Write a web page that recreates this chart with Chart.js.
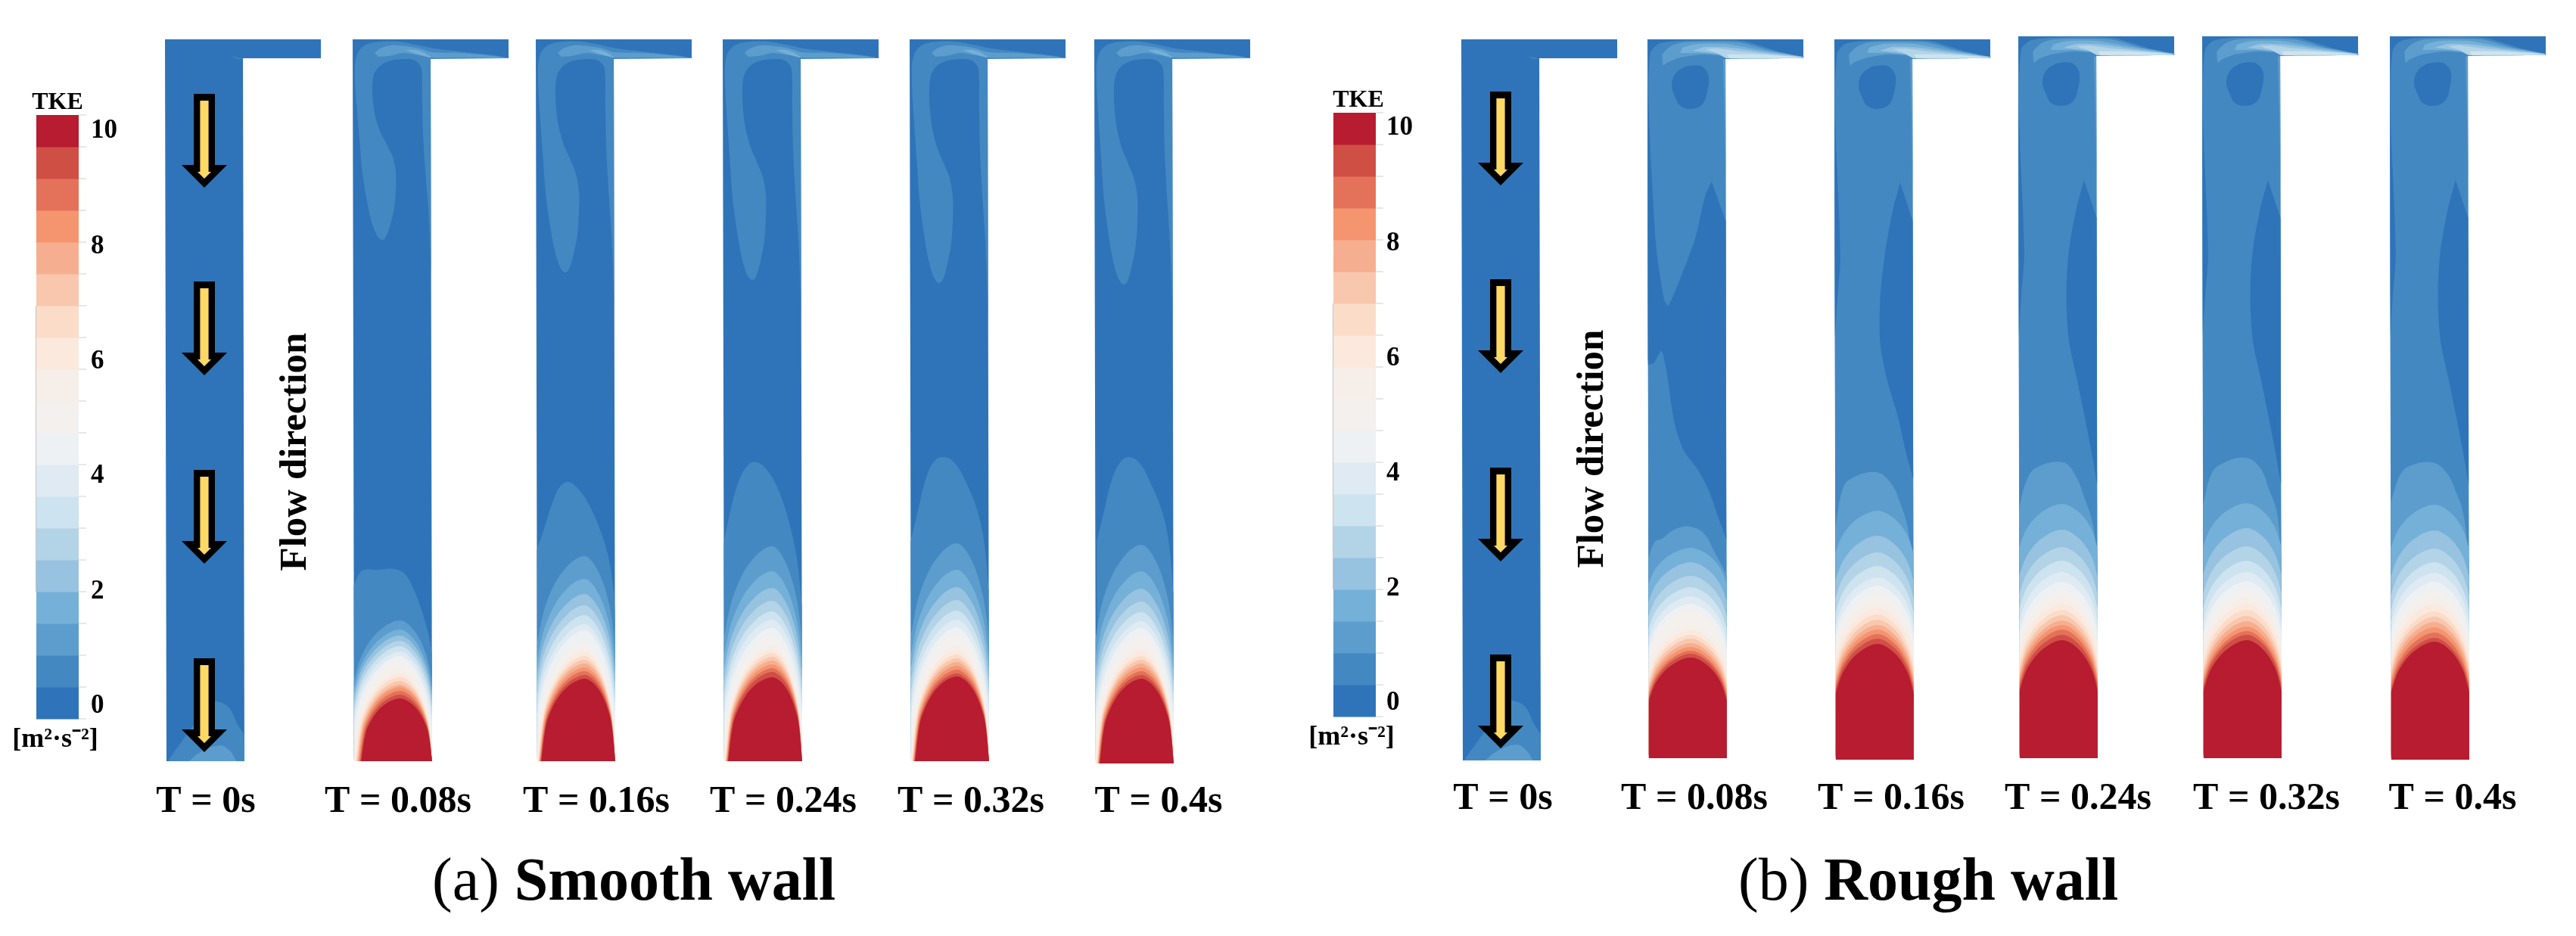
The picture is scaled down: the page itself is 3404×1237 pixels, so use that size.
<!DOCTYPE html>
<html>
<head>
<meta charset="utf-8">
<title>TKE contours</title>
<script src="https://cdn.jsdelivr.net/npm/chart.js@4"></script>
<style>
  html, body { margin: 0; background: #fff; }
  canvas { display: block; }
</style>
</head>
<body>
<canvas id="tkeChart" width="3404" height="1237"></canvas>
<script>
// --- data ---
const timeLabels = ['T = 0s', 'T = 0.08s', 'T = 0.16s', 'T = 0.24s', 'T = 0.32s', 'T = 0.4s'];
const tkeTicks = [0, 2, 4, 6, 8, 10];
// colour bar, bottom to top
const tkeColors = ['#2f74b8', '#4488c2', '#5c9dcd', '#74b0d7', '#97c2e0', '#b3d3e7', '#cde3ef', '#dfeaf2',
    '#edf1f4', '#f3f0ee', '#f5eee9', '#fbe9dd', '#fbdcc9', '#f8c7ae', '#f6ae90', '#f4956f', '#e4725a', '#d04f45', '#b71c30'];

// contours are [across the pipe in %, height above the outlet]
const smoothOuter = [
    [[0, 231], [6, 246], [13, 253], [30, 253], [52, 254], [65, 248], [76, 229], [87, 199], [96, 166], [100, 143]],
    [[0, 279], [9, 306], [20, 341], [30, 363], [41, 369], [54, 359], [67, 339], [80, 309], [91, 273], [98, 229], [100, 199]],
    [[0, 289], [7, 323], [18, 366], [31, 391], [43, 395], [57, 383], [70, 359], [83, 319], [94, 266], [100, 206]],
    [[0, 291], [9, 329], [20, 374], [31, 397], [43, 402], [56, 395], [70, 371], [85, 333], [94, 291], [100, 226]],
    [[2, 294], [11, 332], [22, 377], [33, 399], [43, 405], [56, 398], [70, 373], [85, 335], [94, 294], [100, 225]]
];
// apex height of each closed band, from the outermost in to the red core
const smoothApex = [
    [186, 174, 166, 159, 152, 145, 139, 134, 121, 116, 111, 106, 101, 98, 93, 88, 83],
    [271, 241, 221, 206, 193, 181, 173, 158, 149, 144, 139, 134, 129, 124, 119, 114, 109],
    [284, 251, 229, 212, 198, 187, 176, 166, 153, 148, 143, 138, 133, 128, 123, 118, 111],
    [288, 253, 230, 213, 199, 187, 177, 169, 153, 147, 141, 136, 131, 126, 121, 116, 112],
    [289, 254, 231, 214, 200, 188, 179, 170, 154, 148, 142, 137, 132, 127, 122, 117, 112]
];
const smoothCentre = [59, 61, 62, 59, 59];
const smoothCoreInset = [9, 5, 5, 5, 5];
const smoothFeet = [.57, .55, .53, .5, .46, .42, .36, .28, .18, 0, 0, 0, 0, 0, 0, 0, 0];

const roughOuter = [
    [[0, 265], [8, 286], [17, 290], [35, 303], [53, 306], [71, 297], [85, 272], [100, 243]],
    [[0, 305], [8, 353], [18, 370], [52, 380], [71, 366], [84, 337], [93, 305], [100, 246]],
    [[0, 331], [9, 366], [22, 384], [56, 391], [72, 374], [84, 343], [94, 311], [100, 264]],
    [[0, 335], [10, 374], [22, 388], [54, 397], [73, 384], [85, 354], [95, 323], [100, 264]],
    [[0, 341], [12, 376], [24, 388], [53, 393], [71, 380], [84, 353], [93, 325], [100, 266]]
];
const roughApex = [
    [278, 259, 241, 226, 214, 204, 197, 176, 169, 163, 158, 152, 147, 142, 138, 133],
    [329, 296, 274, 256, 241, 230, 220, 210, 200, 192, 185, 178, 172, 166, 160, 153],
    [336, 302, 279, 261, 246, 233, 222, 212, 204, 196, 189, 182, 176, 170, 163, 156],
    [337, 304, 280, 261, 246, 234, 223, 213, 204, 196, 188, 181, 174, 168, 163, 156],
    [337, 303, 279, 261, 247, 235, 223, 214, 205, 196, 189, 182, 175, 168, 161, 156]
];
const roughCentre = [54, 54, 55, 56, 56];
const roughFeet = [.83, .8, .78, .76, .74, .72, .7, .68, .66, .64, .62, .61, .6, .59, .58, .57];

// how a band falls away from its apex towards the wall: [share of the half width, share of the height]
const domeProfile = [[0, 1], [.2, .96], [.4, .86], [.6, .71], [.8, .47], [.9, .28], [1, 0]];
// the warm bands near the core are rounder
const coreProfile = [[0, 1], [.2, .97], [.4, .9], [.6, .78], [.8, .58], [.9, .4], [1, 0]];

// upper part of the flow: [across the pipe in %, depth below the top edge]
const t0Outer = [[3, 2], [16, 21], [40, 55], [55, 77], [68, 78], [81, 70], [91, 49], [100, 35]];
const t0Inner = [[29, 0], [42, 11], [68, 21], [81, 14], [90, 0]];
const t0Sliver = [[85, 22], [100, 26], [93, 26]];
const smoothLobe = [[200, 25], [181, 21], [136, 16], [104, 12], [81, 7], [59, 3], [36, 3], [17, 7], [7, 17], [3, 33], [3, 58],
    [5, 88], [9, 138], [12, 175], [17, 208], [23, 238], [30, 258], [36, 265], [41, 263], [47, 248], [53, 222], [55, 195], [55, 175],
    [51, 155], [43, 138], [35, 122], [28, 98], [25, 68], [27, 47], [35, 35], [49, 28], [68, 26], [80, 28], [88, 38], [89, 78],
    [90, 125], [93, 175], [97, 228], [100, 312], [100, 312], [100, 26], [100, 26]];
const smoothTipDepth = [265, 308, 318, 322, 324];
const smoothJet = [[28, 18], [35, 12], [49, 8], [68, 9], [85, 12], [101, 17], [136, 18], [181, 22], [200, 25], [136, 24], [101, 24], [85, 21], [65, 18], [46, 22], [33, 23]];
const smoothJetCore = [[68, 14], [81, 14], [92, 18], [100, 24], [88, 21], [78, 18]];

const roughRing = [[201, 24], [165, 15], [121, 2], [39, 2], [14, 6], [4, 17], [1, 55], [0, 93], [0, 93], [0, 950], [0, 950], [100, 950], [100, 950], [100, 26], [100, 26]];
const roughEye = [[61, 34], [70, 36], [78, 47], [77, 67], [70, 86], [55, 92], [42, 88], [36, 78], [31, 61], [36, 45], [48, 36]];
const roughWedge08 = [[82, 188], [74, 205], [61, 262], [43, 312], [26, 352], [21, 345], [11, 278], [5, 178], [1, 78], [0, 28], [0, 28], [0, 430], [0, 430],
    [7, 428], [17, 412], [23, 435], [29, 478], [34, 509], [45, 543], [63, 568], [77, 595], [90, 633], [100, 661], [100, 661], [100, 240]];
const roughWedge16 = [[84, 189], [74, 228], [64, 286], [58, 343], [58, 401], [67, 451], [80, 497], [91, 547], [100, 581], [100, 581], [100, 240]];
const roughWedgeLate = [[84, 190], [74, 228], [64, 286], [61, 343], [64, 401], [74, 451], [83, 497], [92, 545], [100, 592], [100, 592], [100, 240]];
const roughStrip = [[0, 30], [1, 115], [7, 286], [3, 345], [0, 395]];
const roughWallStrip = [[97, 27], [100, 26], [100, 200], [99, 110]];
const roughJets = [
    [[20, 35], [19, 20], [30, 9], [45, 4], [77, 3], [118, 4], [158, 15], [201, 24], [102, 25], [99, 22], [70, 20], [42, 24], [26, 30]],
    [[42, 18], [45, 11], [64, 6], [102, 6], [140, 13], [201, 24], [102, 25], [96, 21], [70, 18], [52, 18]],
    [[58, 15], [74, 10], [108, 11], [150, 17], [201, 24], [102, 25], [95, 20], [75, 17]],
    [[74, 13], [89, 12], [121, 16], [201, 24], [102, 25], [89, 18]],
    [[102, 20], [140, 20], [201, 24], [105, 25]]
];

// --- layout of the figure, in picture pixels ---
const smoothPanels = [
    { left: 218, top: 52, bottom: 1006 }, { left: 466, top: 52, bottom: 1006 }, { left: 708, top: 52, bottom: 1006 },
    { left: 955, top: 52, bottom: 1006 }, { left: 1202, top: 52, bottom: 1006 }, { left: 1446, top: 52, bottom: 1009 }
];
const roughPanels = [
    { left: 1931, top: 52, bottom: 1005 }, { left: 2177, top: 52, bottom: 1002 }, { left: 2424, top: 52, bottom: 1004 },
    { left: 2667, top: 48, bottom: 1002 }, { left: 2910, top: 48, bottom: 1002 }, { left: 3158, top: 48, bottom: 1004 }
];
const pipeWidth = 103;
const branchDepth = 25;
const smoothLabelX = [272, 526, 788, 1035, 1283, 1531];
const roughLabelX = [1986, 2239, 2499, 2746, 2995, 3241];
const arrowShape = [[-14, 0], [14, 0], [14, 94], [30, 94], [0, 124], [-30, 94], [-14, 94]];
const arrowCore = [[-5.6, 9], [5.6, 9], [5.6, 103], [9, 103], [0, 112], [-9, 103], [-5.6, 103]];
const smoothArrowTops = [124, 372, 621, 870];
const roughArrowTops = [121, 369, 618, 865];

const datasets = [];

function addShape(points, color, tension) {
    datasets.push({
        data: points.map(p => ({ x: p[0], y: p[1] })),
        showLine: true,
        fill: 'shape',
        backgroundColor: color,
        borderWidth: 0,
        pointRadius: 0,
        tension: tension || 0,
        order: -datasets.length
    });
}

// pipe walls lean by a couple of pixels from top to bottom
function toFigure(panel, u, depth) {
    return [panel.left + u / 100 * pipeWidth + 2 * depth / 950, panel.top + depth];
}
function fromTop(panel, list) {
    return list.map(p => toFigure(panel, p[0], p[1]));
}
function fromBottom(panel, list) {
    return list.map(p => toFigure(panel, p[0], panel.bottom - panel.top - p[1]));
}

function addPanelBase(panel) {
    addShape(fromTop(panel, [[0, 0], [200, 0], [200, branchDepth], [100, branchDepth], [100, panel.bottom - panel.top], [0, panel.bottom - panel.top]]), tkeColors[0]);
}

// outer contour, closed down along the walls to the outlet
function addOutline(panel, list, color) {
    const first = list[0];
    const last = list[list.length - 1];
    const pts = [[first[0], 0], first, first].concat(list.slice(1, -1), [last, last, [last[0], 0]]);
    addShape(fromBottom(panel, pts), color, 0.4);
}

function addDome(panel, centre, apex, foot, color, inset, profile) {
    const wallL = inset || 0;
    const wallR = 100;
    const h = s => apex * (foot + (1 - foot) * s);
    const left = profile.map(p => [centre - p[0] * (centre - wallL), h(p[1])]).reverse();
    const right = profile.slice(1).map(p => [centre + p[0] * (wallR - centre), h(p[1])]);
    const curve = left.concat(right);
    const pts = [[wallL, 0], curve[0], curve[0]].concat(curve.slice(1, -1), [curve[curve.length - 1], curve[curve.length - 1], [wallR, 0]]);
    addShape(fromBottom(panel, pts), color, 0.4);
}

function addT0(panel) {
    addPanelBase(panel);
    addShape(fromTop(panel, t0Sliver), tkeColors[1]);
    addOutline(panel, t0Outer, tkeColors[1]);
    addOutline(panel, t0Inner, tkeColors[2]);
}

function addArrows(x, tops) {
    tops.forEach(top => {
        addShape(arrowShape.map(p => [x + p[0], top + p[1]]), '#000000');
        addShape(arrowCore.map(p => [x + p[0], top + p[1]]), '#ffd966');
    });
}

function addColourBar(left, top) {
    const barWidth = 56;
    const band = 42;
    tkeColors.forEach((color, i) => {
        const y0 = top + (18 - i) * band;
        addShape([[left, y0], [left + barWidth, y0], [left + barWidth, y0 + band + 0.5], [left, y0 + band + 0.5]], color);
    });
    for (let i = 0; i <= 19; i++) {
        const y = top + i * band;
        addShape([[left + barWidth, y - 0.5], [left + barWidth + 10, y - 0.5], [left + barWidth + 10, y + 0.5], [left + barWidth, y + 0.5]], '#d0d0d0');
    }
    addShape([[left - 1, top + 6 * band], [left, top + 6 * band], [left, top + 15 * band], [left - 1, top + 15 * band]], '#c4c4c4');
}

// smooth wall
addT0(smoothPanels[0]);
smoothPanels.slice(1).forEach((panel, k) => {
    const stretch = (smoothTipDepth[k] - 40) / (smoothLobe[17][1] - 40);
    addPanelBase(panel);
    addShape(fromTop(panel, smoothLobe.map(p => [p[0], p[1] > 40 ? 40 + (p[1] - 40) * stretch : p[1]])), tkeColors[1], 0.3);
    addShape(fromTop(panel, smoothJet), tkeColors[2], 0.3);
    addShape(fromTop(panel, smoothJetCore), tkeColors[3], 0.3);
    addOutline(panel, smoothOuter[k], tkeColors[1]);
    smoothApex[k].forEach((apex, i) => {
        // warm bands stand on the outlet, closing in on the core's left corner
        const inset = i > 8 ? smoothCoreInset[k] * (i - 8) / 8 : 0;
        addDome(panel, smoothCentre[k], apex, smoothFeet[i], tkeColors[i + 2], inset, i > 8 ? coreProfile : domeProfile);
    });
});

// rough wall
addT0(roughPanels[0]);
roughPanels.slice(1).forEach((panel, k) => {
    addPanelBase(panel);
    addShape(fromTop(panel, roughRing), tkeColors[1], 0.2);
    if (k === 0) {
        addShape(fromTop(panel, roughWedge08), tkeColors[0], 0.25);
    } else {
        addShape(fromTop(panel, k === 1 ? roughWedge16 : roughWedgeLate), tkeColors[0], 0.3);
        addShape(fromTop(panel, roughStrip), tkeColors[0], 0.3);
    }
    addShape(fromTop(panel, roughEye), tkeColors[0], 0.4);
    addShape(fromTop(panel, roughWallStrip), tkeColors[2]);
    roughJets.forEach((jet, i) => addShape(fromTop(panel, jet), tkeColors[i + 2], 0.2));
    addOutline(panel, roughOuter[k], tkeColors[2]);
    roughApex[k].forEach((apex, i) => {
        addDome(panel, roughCentre[k], apex, roughFeet[i], tkeColors[i + 3], 0, domeProfile);
    });
});

addArrows(270, smoothArrowTops);
addArrows(1983, roughArrowTops);
addColourBar(48, 152);
addColourBar(1762, 149);

// every label goes through the same scales as the shapes
const figureText = {
    id: 'figureText',
    afterDatasetsDraw(chart) {
        const { ctx, scales: { x, y } } = chart;
        const put = (text, px, py, font, align) => {
            ctx.font = font;
            ctx.textAlign = align || 'center';
            ctx.textBaseline = 'middle';
            ctx.fillStyle = '#000';
            ctx.fillText(text, x.getPixelForValue(px), y.getPixelForValue(py));
        };
        const serif = '"Liberation Serif", serif';
        timeLabels.forEach((label, i) => {
            put(label, smoothLabelX[i], 1060, 'bold 50px ' + serif);
            put(label, roughLabelX[i], 1056, 'bold 50px ' + serif);
        });
        const smoothTickY = [933, 782, 629, 478, 326, 173];
        const roughTickY = [929, 778, 626, 474, 322, 169];
        tkeTicks.forEach((tick, i) => {
            put(String(tick), 120, smoothTickY[i], 'bold 35px ' + serif, 'left');
            put(String(tick), 1832, roughTickY[i], 'bold 35px ' + serif, 'left');
        });
        put('TKE', 76, 136, 'bold 32px ' + serif);
        put('TKE', 1795, 133, 'bold 32px ' + serif);
        put('[m²·s⁻²]', 73, 978, 'bold 36px ' + serif);
        put('[m²·s⁻²]', 1786, 975, 'bold 36px ' + serif);

        [[391, 597], [2105, 593]].forEach(pos => {
            ctx.save();
            ctx.translate(x.getPixelForValue(pos[0]), y.getPixelForValue(pos[1]));
            ctx.rotate(-Math.PI / 2);
            ctx.font = 'bold 51px ' + serif;
            ctx.textAlign = 'center';
            ctx.textBaseline = 'middle';
            ctx.fillStyle = '#000';
            ctx.fillText('Flow direction', 0, 0);
            ctx.restore();
        });

        const caption = (tag, name, startX) => {
            ctx.font = '80px ' + serif;
            const tagWidth = ctx.measureText(tag).width;
            put(tag, startX, 1168, '80px ' + serif, 'left');
            put(name, startX + tagWidth, 1168, 'bold 80px ' + serif, 'left');
        };
        caption('(a) ', 'Smooth wall', 571);
        caption('(b) ', 'Rough wall', 2297);
    }
};

new Chart(document.getElementById('tkeChart'), {
    type: 'scatter',
    data: { datasets: datasets },
    options: {
        responsive: false,
        animation: false,
        events: [],
        layout: { padding: 0 },
        plugins: { legend: { display: false }, tooltip: { enabled: false } },
        scales: {
            x: { type: 'linear', min: 0, max: 3404, display: false },
            y: { type: 'linear', min: 0, max: 1237, reverse: true, display: false }
        }
    },
    plugins: [figureText]
});
</script>
</body>
</html>
